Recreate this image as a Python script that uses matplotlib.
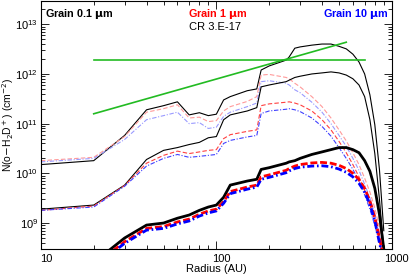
import numpy as np
import matplotlib
matplotlib.use("Agg")
import matplotlib.pyplot as plt
import matplotlib.transforms as mtransforms
from matplotlib.ticker import LogLocator, NullFormatter

plt.rcParams['font.family'] = ['Liberation Sans', 'DejaVu Sans']

radius = [10, 20, 30, 40, 50, 60, 70, 80, 90, 100, 110, 120, 150, 170, 180, 200,
          250, 260, 280, 300, 350, 400, 450, 500, 550, 600, 650, 700, 750, 800, 850, 900]

# Upper family (thin)
black_a = [1.5e10, 1.8e10, 5.8e10, 1.9e11, 2.3e11, 2.75e11, 1.5e11, 1.66e11, 1.45e11, 1.55e11,
           3.0e11, 3.5e11, 4.6e11, 5.0e11, 1.2e12, 1.45e12, 1.9e12, 2.2e12, 3.3e12, 3.5e12,
           3.8e12, 4.0e12, 4.0e12, 3.6e12, 3.2e12, 2.5e12, 1.74e12, 1.0e12, 3.8e11, 9.5e10,
           1.2e10, 7e8]
red_a = [1.8e10, 2.1e10, 5.5e10, 1.7e11, 2.0e11, 2.4e11, 1.3e11, 1.35e11, 1.1e11, 1.15e11,
         1.8e11, 2.2e11, 2.8e11, 3.5e11, 9.5e11, 9.8e11, 8.5e11, 8.0e11, 6.5e11, 5.5e11,
         3.5e11, 2.2e11, 1.3e11, 7.5e10, 4.5e10, 2.6e10, 1.5e10, 8e9, 4.2e9, 2.0e9,
         8e8, 3e8]
blue_a = [1.7e10, 2.0e10, 4.8e10, 1.2e11, 1.45e11, 1.7e11, 1.0e11, 1.05e11, 8e10, 8.5e10,
          1.4e11, 1.7e11, 2.2e11, 2.6e11, 7.0e11, 7.3e11, 6.5e11, 6.0e11, 4.8e11, 4.2e11,
          2.7e11, 1.7e11, 1.0e11, 5.8e10, 3.5e10, 2.0e10, 1.15e10, 6e9, 3.2e9, 1.5e9,
          6e8, 2.5e8]

# Middle family (thin)
black_b = [1.9e9, 2.3e9, 5.8e9, 1.9e10, 2.9e10, 3.3e10, 3.8e10, 4.2e10, 5.2e10, 5.5e10,
           1.2e11, 1.5e11, 1.8e11, 2.1e11, 5.5e11, 6.0e11, 7.0e11, 7.5e11, 8.5e11, 9.0e11,
           1.0e12, 1.05e12, 1.1e12, 1.05e12, 9.5e11, 8.0e11, 6.0e11, 3.5e11, 1.2e11, 2.5e10,
           3e9, 3e8]
red_b = [1.8e9, 2.2e9, 5.7e9, 1.6e10, 2.3e10, 2.8e10, 2.5e10, 2.7e10, 2.9e10, 3.0e10,
         5.0e10, 6.0e10, 7.0e10, 7.5e10, 2.3e11, 2.5e11, 2.7e11, 2.75e11, 2.6e11, 2.4e11,
         1.8e11, 1.2e11, 7.5e10, 4.4e10, 2.6e10, 1.5e10, 8.5e9, 4.5e9, 2.3e9, 1.1e9,
         5e8, 2e8]
blue_b = [1.8e9, 2.1e9, 5.5e9, 1.4e10, 2.0e10, 2.4e10, 2.1e10, 2.2e10, 2.3e10, 2.4e10,
          4.0e10, 4.6e10, 5.4e10, 5.8e10, 1.6e11, 1.8e11, 1.95e11, 2.0e11, 1.9e11, 1.75e11,
          1.3e11, 8.8e10, 5.6e10, 3.3e10, 2.0e10, 1.2e10, 7e9, 3.7e9, 1.9e9, 9e8,
          4e8, 1.6e8]

# Lower family (thick)
black_c = [1.2e8, 1.6e8, 5.0e8, 9.1e8, 1.0e9, 1.25e9, 1.45e9, 1.8e9, 2.1e9, 2.3e9,
           3.3e9, 5.8e9, 7.0e9, 7.6e9, 1.2e10, 1.3e10, 1.6e10, 1.7e10, 1.8e10, 2.0e10,
           2.4e10, 2.7e10, 3.0e10, 3.3e10, 3.3e10, 3.0e10, 2.6e10, 1.8e10, 1.1e10, 5e9,
           1.5e9, 3e8]
red_c = [1.0e8, 1.4e8, 4.2e8, 7.8e8, 8.5e8, 1.05e9, 1.2e9, 1.5e9, 1.75e9, 1.9e9,
         2.7e9, 4.3e9, 5.3e9, 5.8e9, 8.5e9, 9.3e9, 1.15e10, 1.25e10, 1.4e10, 1.5e10,
         1.62e10, 1.66e10, 1.6e10, 1.45e10, 1.25e10, 1.0e10, 7.5e9, 5e9, 2.8e9, 1.3e9,
         5e8, 2e8]
blue_c = [0.9e8, 1.3e8, 3.9e8, 7.2e8, 7.8e8, 9.6e8, 1.1e9, 1.38e9, 1.6e9, 1.75e9,
          2.5e9, 3.9e9, 4.8e9, 5.3e9, 7.6e9, 8.3e9, 1.03e10, 1.12e10, 1.25e10, 1.33e10,
          1.4e10, 1.42e10, 1.36e10, 1.22e10, 1.05e10, 8.5e9, 6.3e9, 4.2e9, 2.4e9, 1.1e9,
          4e8, 1.7e8]

# Green reference lines
flat_r = [20, 700]
flat_n = [1.9e12, 1.9e12]
slope_r = [20, 550]
slope_n = [1.58e11, 4.35e12]

x_ticks = [10, 100, 1000]
x_ticklabels = ['10', '100', '1000']

fig = plt.figure(figsize=(4.09, 2.77), dpi=100)
ax = fig.add_axes([0.100, 0.101, 0.858, 0.897])

thin = 0.8
thick = 2.0
ax.plot(radius, black_a, color='black', lw=thin)
ax.plot(radius, red_a, color='#ff9a9a', lw=thin, ls=(0, (4, 2)))
ax.plot(radius, blue_a, color='#9a9aff', lw=thin, ls=(0, (4, 1.5, 1, 1.5)))
ax.plot(radius, black_b, color='black', lw=thin)
ax.plot(radius, red_b, color='#ff4040', lw=thin, ls=(0, (4, 2)))
ax.plot(radius, blue_b, color='#4040ff', lw=thin, ls=(0, (4, 1.5, 1, 1.5)))
ax.plot(radius, black_c, color='black', lw=thick)
ax.plot(radius, red_c, color='#ff0000', lw=thick, ls=(0, (2.5, 1)))
ax.plot(radius, blue_c, color='#0000ff', lw=thick, ls=(0, (2.5, 1, 0.6, 1)))
ax.plot(flat_r, flat_n, color='#22bb22', lw=1.2)
ax.plot(slope_r, slope_n, color='#22bb22', lw=1.2)

ax.set_xscale('log')
ax.set_yscale('log')
ax.set_xlim(10, 1000)
ax.set_ylim(3e8, 3e13)

ax.tick_params(which='both', direction='in', top=True, right=True, labelsize=8, width=0.6)
ax.tick_params(which='major', length=6)
ax.tick_params(which='minor', length=3)
ax.yaxis.set_minor_locator(LogLocator(base=10, subs=np.arange(2, 10)))
ax.yaxis.set_minor_formatter(NullFormatter())
ax.xaxis.set_minor_locator(LogLocator(base=10, subs=np.arange(2, 10)))
ax.xaxis.set_minor_formatter(NullFormatter())
ax.set_xticks(x_ticks)
ax.set_xticklabels([])
# tick labels drawn slightly right of their ticks, as in the original
shift = mtransforms.ScaledTranslation(5 / 100, -5 / 100, fig.dpi_scale_trans)
trans = mtransforms.blended_transform_factory(ax.transData, ax.transAxes) + shift
for xv, lab in zip(x_ticks, x_ticklabels):
    ax.text(xv, 0, lab, transform=trans, ha='center', va='top', fontsize=8, clip_on=False)
ax.tick_params(axis='y', pad=2)
for sp in ax.spines.values():
    sp.set_linewidth(0.8)

ax.set_xlabel('Radius (AU)', fontsize=8)
ax.xaxis.set_label_coords(0.5, -0.062)
ax.set_ylabel(r'N(o$-$H$_2$D$^+$) (cm$^{-2}$)', fontsize=7.5)
ax.yaxis.set_label_coords(-0.071, 0.5)

ax.text(0.012, 0.975, r'Grain 0.1 $\mathbf{\mu}$m', transform=ax.transAxes, fontsize=7.8,
        fontweight='bold', color='black', va='top', ha='left')
ax.text(0.505, 0.975, r'Grain 1 $\mathbf{\mu}$m', transform=ax.transAxes, fontsize=7.8,
        fontweight='bold', color='red', va='top', ha='center')
ax.text(0.99, 0.975, r'Grain 10 $\mathbf{\mu}$m', transform=ax.transAxes, fontsize=7.8,
        fontweight='bold', color='blue', va='top', ha='right')
ax.text(0.496, 0.915, 'CR 3.E-17', transform=ax.transAxes, fontsize=8,
        color='black', va='top', ha='center')

fig.savefig('out.png', dpi=100)
